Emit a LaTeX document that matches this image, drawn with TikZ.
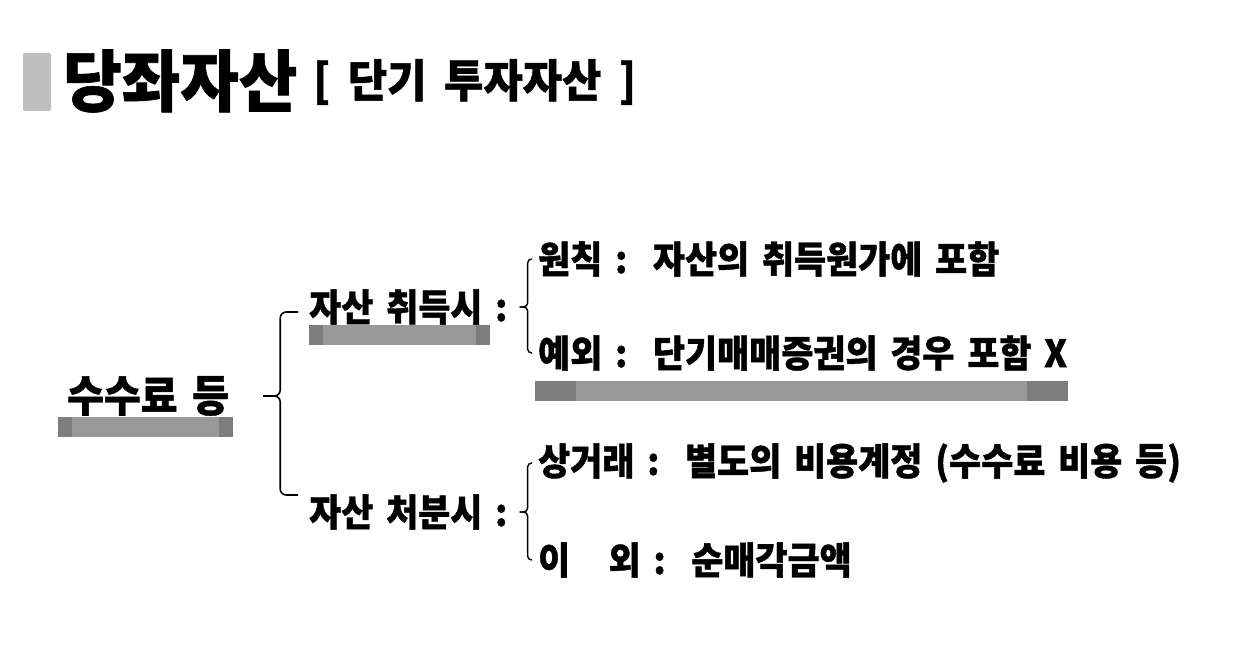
\documentclass[tikz,border=0pt]{standalone}
\usepackage{fontspec}
\setmainfont{Noto Sans CJK KR}[FakeStretch=0.93, WordSpace=1.6, FakeBold=1]
\newfontfamily\titlefont{Noto Sans CJK KR}[FakeStretch=0.95, WordSpace=1.8, FakeBold=1]
\usetikzlibrary{positioning}

\definecolor{barmid}{HTML}{999999}
\definecolor{barend}{HTML}{7D7D7D}
\definecolor{titlebar}{HTML}{BEBEBE}

\tikzset{
  txt/.style={anchor=west, inner sep=0pt, font=\bfseries\fontsize{#1}{#1}\selectfont},
  head/.style={anchor=west, inner sep=0pt, font=\titlefont\bfseries\fontsize{#1}{#1}\selectfont},
  brace/.style={draw, line width=1.6pt, rounded corners=6pt}
}

\begin{document}
\begin{tikzpicture}[x=1pt, y=-1pt]
    \useasboundingbox (0,0) rectangle (1256,652);
    % title
    \fill[titlebar, rounded corners=2pt] (23,53) rectangle (51,111);
    \node[head=67] (title) at (63,81) {당좌자산};
    \node[head=45] (sub) at (313,82) {[ 단기 투자자산 ]};
    % highlight bars under the key words
    \foreach \xa/\xb/\ya/\w in {58/233/417/14, 309/490/325/14, 535/1068/381/41} {
      \fill[barmid] (\xa,\ya) rectangle (\xb,\ya+20);
      \fill[barend] (\xa,\ya) rectangle ++(\w,20);
      \fill[barend] (\xb,\ya) rectangle ++(-\w,20);
    }
    \node[txt=43] (root) at (67,396) {수수료 등};
    \node[txt=37.5] (acq) at (309,307) {자산 취득시 :};
    \node[txt=37.5] (disp) at (309,512) {자산 처분시 :};
    \node[txt=37.5] (l1) at (538,259) {원칙 :~~자산의 취득원가에 포함};
    \node[txt=37.5] (l2) at (538,353) {예외 :~~단기매매증권의 경우 포함 X};
    \node[txt=37.5] (l3) at (538,463) {상거래 :~~별도의 비용계정 (수수료 비용 등)};
    \node[txt=37.5] (l4) at (538,560) {이~~~외 :~~순매각금액};
    % braces
    \draw[brace] ([xshift=-11pt,yshift=-5pt]acq.west) -| ([xshift=51pt]root.east) -- ([xshift=34pt]root.east);
    \draw[brace] ([xshift=-11pt,yshift=17pt]disp.west) -| ([xshift=51pt]root.east) -- ([xshift=34pt]root.east);
    \foreach \p/\c in {acq/l1, acq/l2, disp/l3, disp/l4}
      \draw[brace, line width=1.4pt, rounded corners=4pt] ([xshift=-6pt]\c.west) -| ([xshift=20pt]\p.east) -- ([xshift=12pt]\p.east);
\end{tikzpicture}
\end{document}
